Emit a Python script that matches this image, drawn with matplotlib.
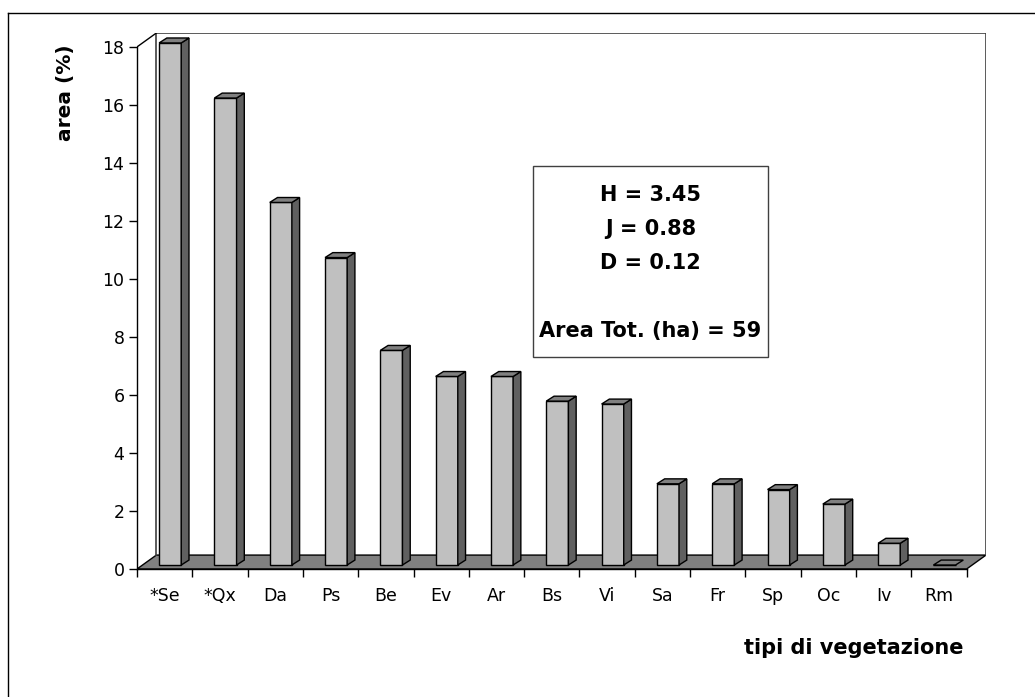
import matplotlib
matplotlib.use("Agg")
import matplotlib.pyplot as plt
from matplotlib.patches import Polygon, Rectangle
from matplotlib.lines import Line2D

# ---- data -------------------------------------------------------------
categories = ["*Se", "*Qx", "Da", "Ps", "Be", "Ev", "Ar", "Bs", "Vi",
              "Sa", "Fr", "Sp", "Oc", "Iv", "Rm"]
area_pct = [18.0, 16.1, 12.5, 10.6, 7.4, 6.5, 6.5, 5.65, 5.55,
            2.8, 2.8, 2.6, 2.1, 0.75, 0.0]
y_ticks = [0, 2, 4, 6, 8, 10, 12, 14, 16, 18]
stats_lines = ["H = 3.45", "J = 0.88", "D = 0.12", "", "Area Tot. (ha) = 59"]
x_title = "tipi di vegetazione"
y_title = "area (%)"

# ---- layout (pixels) ----------------------------------------------------
W, H = 1035, 697
plt.rcParams["font.family"] = ["DejaVu Sans"]

n = len(categories)
ymax = y_ticks[-1]
DX, DY = 0.35, 0.48        # depth of the floor / back wall (data units)
FX, FY = 0.10, 0.138       # front of the bars, pushed back into the box
BW = 0.40                  # bar width
SX, SY = 0.14, 0.17        # bar depth

FACE = "#c0c0c0"
SIDE = "#606060"
TOP = "#808080"
FLOOR = "#808080"
WALL = "#404040"


def fx(px):
    return px / W


def fy(py):
    return 1 - py / H


fig = plt.figure(figsize=(W / 100, H / 100), dpi=100)
fig.patch.set_facecolor("white")

left, right, top, bottom = 137, 986, 33, 569
ax = fig.add_axes([fx(left), fy(bottom), (right - left) / W, (bottom - top) / H])
ax.set_xlim(0, n + DX)
ax.set_ylim(0, ymax + DY)
ax.patch.set_visible(False)
for s in ("top", "right"):
    ax.spines[s].set_visible(False)
ax.spines["left"].set_bounds(0, ymax)
ax.spines["bottom"].set_bounds(0, n)
for s in ("left", "bottom"):
    ax.spines[s].set_linewidth(1.0)
    ax.spines[s].set_color("black")
    ax.spines[s].set_zorder(5)

# floor
ax.add_patch(Polygon([(0, 0), (n, 0), (n + DX, DY), (DX, DY)], closed=True,
                     facecolor=FLOOR, edgecolor="black", linewidth=1.0, zorder=1))
# back wall outline
ax.add_line(Line2D([DX, DX, n + DX, n + DX], [DY, ymax + DY, ymax + DY, DY],
                   color=WALL, linewidth=1.2, zorder=1))
ax.add_line(Line2D([0, DX], [ymax, ymax + DY], color="black", linewidth=1.0, zorder=1))

# bars: front faces, then their side and top faces
xpos = [i + 0.5 + FX for i in range(n)]
bars = ax.bar(xpos, area_pct, width=BW, bottom=FY, color=FACE,
              edgecolor="black", linewidth=1.0, zorder=3)
for rect in bars:
    x0, y0 = rect.get_x(), rect.get_y()
    w, h = rect.get_width(), rect.get_height()
    x1, y1 = x0 + w, y0 + h
    if h > 0:
        ax.add_patch(Polygon([(x1, y0), (x1 + SX, y0 + SY), (x1 + SX, y1 + SY), (x1, y1)],
                             closed=True, facecolor=SIDE, edgecolor="black",
                             linewidth=1.0, zorder=3))
    ax.add_patch(Polygon([(x0, y1), (x1, y1), (x1 + SX, y1 + SY), (x0 + SX, y1 + SY)],
                         closed=True, facecolor=TOP, edgecolor="black",
                         linewidth=1.0, zorder=3))

# ticks
ax.set_yticks(y_ticks)
ax.tick_params(axis="y", length=6, width=1.0, pad=3, labelsize=12.5, colors="black")
ax.set_xticks([i + 0.5 for i in range(n)])
ax.set_xticklabels(categories)
ax.set_xticks(range(n + 1), minor=True)
ax.tick_params(axis="x", which="major", length=0, pad=13, labelsize=12.5)
ax.tick_params(axis="x", which="minor", length=6, width=1.0, color="black")

# axis titles
fig.text(fx(65), fy(92.5), y_title, rotation=90, ha="center", va="center",
         fontsize=14.5, fontweight="bold")
fig.text(fx(963), fy(654), x_title, ha="right", va="baseline",
         fontsize=15, fontweight="bold")

# statistics box
fig.add_artist(Rectangle((fx(533), fy(357)), (768 - 533) / W, (357 - 166) / H,
                         transform=fig.transFigure, fill=False,
                         edgecolor="#404040", linewidth=1.0))
for k, line in enumerate(stats_lines):
    if line:
        fig.text(fx(650.5), fy(201 + 34 * k), line, ha="center", va="baseline",
                 fontsize=15, fontweight="bold")

# chart area frame
fig.add_artist(Line2D([fx(8), fx(8)], [fy(12.5), fy(H)], transform=fig.transFigure,
                      color="black", linewidth=1.0))
fig.add_artist(Line2D([fx(8), fx(W)], [fy(12.5), fy(12.5)], transform=fig.transFigure,
                      color="black", linewidth=1.0))

fig.savefig("out.png", dpi=100, facecolor="white")
